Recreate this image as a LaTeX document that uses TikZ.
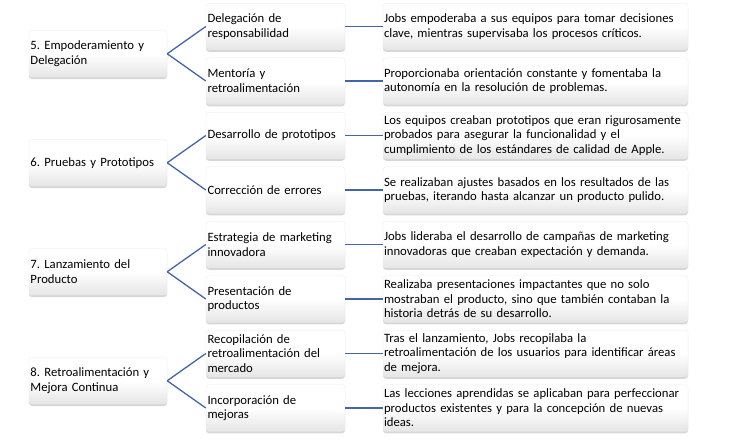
\documentclass[tikz,border=0pt]{standalone}
\usepackage{fontspec}
\setmainfont{Carlito}
\usetikzlibrary{shadows}
\definecolor{linec}{RGB}{66,101,170}
\frenchspacing
\hyphenpenalty=10000
\tikzset{
 box/.style={rounded corners=3pt, top color=white, bottom color=black!10,
   middle color=white, draw=black!8, line width=0.4pt,
   drop shadow={shadow xshift=0pt, shadow yshift=-2pt, opacity=0.32},
   minimum height=46.5pt, inner xsep=1.5pt, inner ysep=0pt, align=left,
   font=\fontsize{12.7}{14.6}\selectfont, anchor=center},
 lbox/.style={box, text width=135pt},
 mbox/.style={box, text width=136pt},
 rbox/.style={box, inner xsep=1pt, text width=303pt},
 conn/.style={draw=linec, line width=1.3pt}
}
\begin{document}
\begin{tikzpicture}[x=1pt,y=1pt]
\useasboundingbox (0,0) rectangle (747,-447);
% left
\node[lbox] (l5) at (98,-53.75) {5. Empoderamiento y\\Delegación};
\node[lbox] (l6) at (98,-162.75) {6. Pruebas y Prototipos};
\node[lbox] (l7) at (98,-271.75) {7. Lanzamiento del\\Producto};
\node[lbox] (l8) at (98,-380.75) {8. Retroalimentación y\\Mejora Continua};
% middle
\node[mbox] (m1) at (275.5,-26.5) {Delegación de\\responsabilidad};
\node[mbox] (m2) at (275.5,-81) {Mentoría y\\retroalimentación};
\node[mbox] (m3) at (275.5,-135.5) {Desarrollo de prototipos};
\node[mbox] (m4) at (275.5,-190) {Corrección de errores};
\node[mbox] (m5) at (275.5,-244.5) {Estrategia de marketing\\innovadora};
\node[mbox] (m6) at (275.5,-299) {Presentación de\\productos};
\node[mbox] (m7) at (275.5,-353.5) {Recopilación de\\retroalimentación del\\mercado};
\node[mbox] (m8) at (275.5,-408) {Incorporación de\\mejoras};
% right
\node[rbox] (r1) at (535.5,-26.5) {Jobs empoderaba a sus equipos para tomar decisiones\\clave, mientras supervisaba los procesos críticos.};
\node[rbox] (r2) at (535.5,-81) {Proporcionaba orientación constante y fomentaba la\\autonomía en la resolución de problemas.};
\node[rbox] (r3) at (535.5,-135.5) {Los equipos creaban prototipos que eran rigurosamente\\probados para asegurar la funcionalidad y el\\cumplimiento de los estándares de calidad de Apple.};
\node[rbox] (r4) at (535.5,-190) {Se realizaban ajustes basados en los resultados de las\\pruebas, iterando hasta alcanzar un producto pulido.};
\node[rbox] (r5) at (535.5,-244.5) {Jobs lideraba el desarrollo de campañas de marketing\\innovadoras que creaban expectación y demanda.};
\node[rbox] (r6) at (535.5,-299) {Realizaba presentaciones impactantes que no solo\\mostraban el producto, sino que también contaban la\\historia detrás de su desarrollo.};
\node[rbox] (r7) at (535.5,-353.5) {Tras el lanzamiento, Jobs recopilaba la\\retroalimentación de los usuarios para identificar áreas\\de mejora.};
\node[rbox] (r8) at (535.5,-408) {Las lecciones aprendidas se aplicaban para perfeccionar\\productos existentes y para la concepción de nuevas\\ideas.};
% connectors
\foreach \l/\a/\b in {l5/m1/m2, l6/m3/m4, l7/m5/m6, l8/m7/m8}{
  \draw[conn] (\l.east) -- (\a.west);
  \draw[conn] (\l.east) -- (\b.west);
}
\foreach \i in {1,...,8}{
  \draw[conn] (m\i.east) -- (r\i.west);
}
\end{tikzpicture}
\end{document}
